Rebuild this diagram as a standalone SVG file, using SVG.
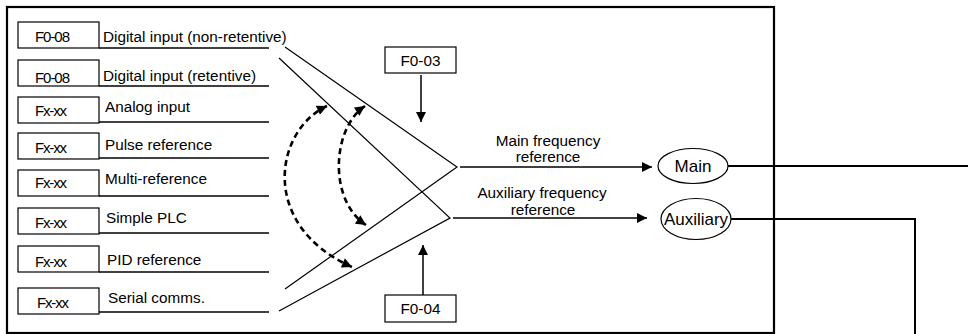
<svg xmlns="http://www.w3.org/2000/svg" width="968" height="334" viewBox="0 0 968 334">
  <style>
    text { font-family: "Liberation Sans", Arial, sans-serif; font-size: 15.3px; fill: #000; }
    .code { font-size: 15px; }
    .box { fill: #fff; stroke: #000; stroke-width: 1.2; }
    .uline { stroke: #000; stroke-width: 1.3; fill: none; }
    .sel { stroke: #000; stroke-width: 1.2; fill: none; }
    .flow { stroke: #000; stroke-width: 1.5; fill: none; }
    .out { stroke: #000; stroke-width: 2; fill: none; }
    .dash { stroke: #000; stroke-width: 2.6; stroke-dasharray: 6 4; fill: none; }
    .mid { text-anchor: middle; }
    .big { font-size: 17px; }
  </style>
  <defs>
    <marker id="arr" markerUnits="userSpaceOnUse" viewBox="0 0 10 10" refX="10" refY="5" markerWidth="10" markerHeight="10" orient="auto">
      <path d="M0,0 L10,5 L0,10 z" fill="#000"/>
    </marker>
    <marker id="darr" markerUnits="userSpaceOnUse" viewBox="0 0 10 10" refX="10" refY="5" markerWidth="12" markerHeight="10" orient="auto-start-reverse">
      <path d="M0,0 L10,5 L0,10 z" fill="#000"/>
    </marker>
  </defs>

  <!-- outer frame -->
  <rect x="7" y="7" width="767" height="326" fill="none" stroke="#000" stroke-width="2.2"/>

  <!-- input sources: parameter code box, label, underline -->
  <g id="src-digital-nonret">
    <rect class="box" x="18" y="22" width="81" height="26"/>
    <text class="code" x="35" y="42" textLength="35" lengthAdjust="spacing">F0-08</text>
    <text x="103" y="42">Digital input (non-retentive)</text>
    <line class="uline" x1="99" y1="48" x2="269" y2="48"/>
  </g>
  <g id="src-digital-ret">
    <rect class="box" x="18" y="60" width="81" height="26"/>
    <text class="code" x="35" y="83" textLength="35" lengthAdjust="spacing">F0-08</text>
    <text x="103" y="81">Digital input (retentive)</text>
    <line class="uline" x1="99" y1="86" x2="269" y2="86"/>
  </g>
  <g id="src-analog">
    <rect class="box" x="18" y="97" width="81" height="26"/>
    <text class="code" x="35" y="116" textLength="32" lengthAdjust="spacing">Fx-xx</text>
    <text x="105" y="112">Analog input</text>
    <line class="uline" x1="99" y1="122" x2="269" y2="122"/>
  </g>
  <g id="src-pulse">
    <rect class="box" x="18" y="133" width="81" height="26"/>
    <text class="code" x="35" y="153" textLength="32" lengthAdjust="spacing">Fx-xx</text>
    <text x="105" y="150">Pulse reference</text>
    <line class="uline" x1="99" y1="158" x2="269" y2="158"/>
  </g>
  <g id="src-multi">
    <rect class="box" x="18" y="170" width="81" height="26"/>
    <text class="code" x="35" y="188" textLength="32" lengthAdjust="spacing">Fx-xx</text>
    <text x="105" y="184">Multi-reference</text>
    <line class="uline" x1="99" y1="196" x2="269" y2="196"/>
  </g>
  <g id="src-plc">
    <rect class="box" x="18" y="208" width="81" height="26"/>
    <text class="code" x="35" y="228" textLength="32" lengthAdjust="spacing">Fx-xx</text>
    <text x="106" y="223">Simple PLC</text>
    <line class="uline" x1="99" y1="233" x2="269" y2="233"/>
  </g>
  <g id="src-pid">
    <rect class="box" x="18" y="246" width="81" height="26"/>
    <text class="code" x="35" y="267" textLength="32" lengthAdjust="spacing">Fx-xx</text>
    <text x="107" y="265">PID reference</text>
    <line class="uline" x1="99" y1="272" x2="269" y2="272"/>
  </g>
  <g id="src-serial">
    <rect class="box" x="18" y="288" width="81" height="26"/>
    <text class="code" x="37" y="308" textLength="32" lengthAdjust="spacing">Fx-xx</text>
    <text x="108" y="303">Serial comms.</text>
    <line class="uline" x1="99" y1="312" x2="269" y2="312"/>
  </g>

  <!-- parameter selectors -->
  <g id="param-f0-03">
    <rect class="box" x="385" y="47" width="71" height="26"/>
    <text class="mid" x="420.5" y="66">F0-03</text>
  </g>
  <g id="param-f0-04">
    <rect class="box" x="385" y="295" width="71" height="27"/>
    <text class="mid" x="420.5" y="314">F0-04</text>
  </g>

  <!-- reference targets -->
  <g id="main">
    <ellipse cx="693" cy="166" rx="35" ry="17.5" fill="#fff" stroke="#000" stroke-width="1.2"/>
    <text class="mid big" x="693" y="172">Main</text>
  </g>
  <g id="auxiliary">
    <ellipse cx="696" cy="219" rx="35" ry="20.5" fill="#fff" stroke="#000" stroke-width="1.2"/>
    <text class="mid big" x="696" y="225">Auxiliary</text>
  </g>

  <g id="connectors">
    <!-- selector wedges -->
    <polyline class="sel" points="285,47 457,167 285,289"/>
    <polyline class="sel" points="279,58 450,218 279,311"/>

    <!-- parameter arrows -->
    <line class="flow" x1="421" y1="75" x2="421" y2="122" marker-end="url(#arr)"/>
    <line class="flow" x1="423" y1="295" x2="423" y2="245" stroke="#333" marker-end="url(#arr)"/>

    <!-- switching arrows -->
    <path class="dash" d="M327,106 C275,130 258,225 352,267" marker-start="url(#darr)" marker-end="url(#darr)"/>
    <path class="dash" d="M365,106 C332,128 328,200 366,225" marker-start="url(#darr)" marker-end="url(#darr)"/>

    <!-- reference outputs -->
    <line class="flow" x1="460" y1="167" x2="652" y2="167" marker-end="url(#arr)"/>
    <text class="mid" x="548" y="146">Main frequency</text>
    <text class="mid" x="548" y="162">reference</text>
    <line class="flow" x1="453" y1="218" x2="647" y2="218" marker-end="url(#arr)"/>
    <text class="mid" x="542" y="198">Auxiliary frequency</text>
    <text class="mid" x="543" y="215">reference</text>

    <line class="out" x1="728" y1="166" x2="968" y2="166"/>
    <polyline class="out" points="731,219 915,219 915,334"/>
  </g>
</svg>
